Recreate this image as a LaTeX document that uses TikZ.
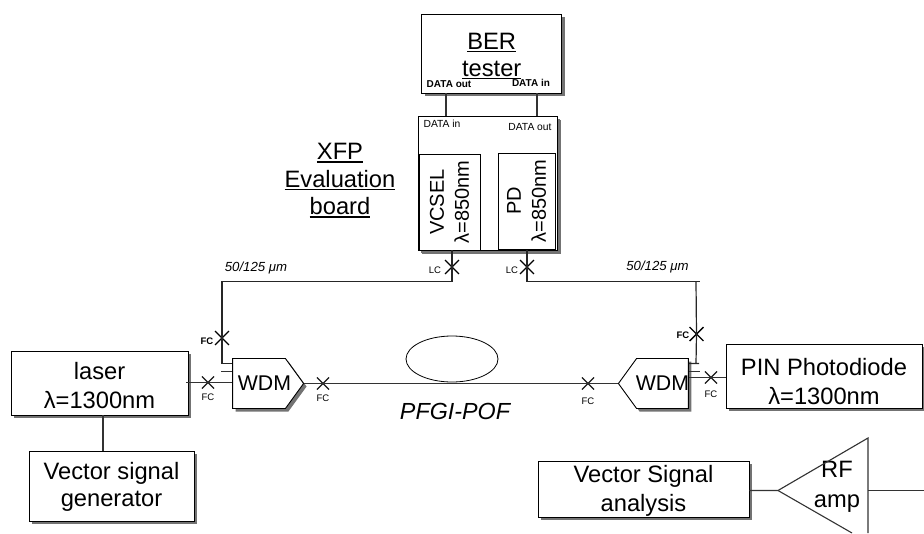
\documentclass[tikz,border=0pt]{standalone}
\usepackage{fontspec}
\setmainfont{Liberation Sans}
\usetikzlibrary{positioning,shapes.misc,shapes.symbols,shapes.geometric,shadows}
\newcommand{\ultext}[1]{\setbox0\hbox{#1}\rlap{\rule[-3pt]{\wd0}{1.2pt}}\box0}
\newcommand{\textdrop}[1]{\rule{0pt}{#1}}
\tikzset{
	box/.style={rectangle,draw,fill=white,align=center,inner sep=0pt,font=\fontsize{23.7}{29}\selectfont,line width=0.9pt,drop shadow={shadow xshift=3pt,shadow yshift=-3pt,fill=black!55,opacity=1}},
	wdm/.style={signal,draw,fill=white,inner sep=0pt,signal pointer angle=108,minimum height=50pt,font=\fontsize{21.3}{24}\selectfont,line width=0.9pt,drop shadow={shadow xshift=3pt,shadow yshift=-3pt,fill=black!55,opacity=1}},
	conn/.style={cross out,draw,inner sep=0pt,minimum size=11pt,line width=1.1pt,black!90},
	connb/.style={cross out,draw,inner sep=0pt,minimum size=12.5pt,line width=1.4pt},
	tag/.style={inner sep=0pt,font=\fontsize{9.5}{11}\selectfont},
	tagb/.style={inner sep=0pt,font=\fontsize{9.5}{11}\selectfont\bfseries},
	datab/.style={inner sep=0pt,font=\fontsize{10}{12}\selectfont\bfseries},
	data/.style={inner sep=0pt,font=\fontsize{10.3}{12}\selectfont},
	fibre/.style={inner sep=0pt,font=\fontsize{13.2}{15}\selectfont\itshape},
	fiber/.style={line width=1.2pt,black!85},
	wire/.style={line width=1.1pt,black!80}
}
\begin{document}
\begin{tikzpicture}[x=1pt,y=-1pt,auto]
	\useasboundingbox (0,0) rectangle (924,533);
	% Place nodes
	\node [box,minimum width=177pt,minimum height=64pt] (laser) at (99.5,383) {\textdrop{23pt}laser\\λ=1300nm};
	\node [box,below of=laser,node distance=103pt,xshift=12pt,minimum width=165pt,minimum height=70pt,font=\fontsize{23.7}{27}\selectfont] (vsg) {\textdrop{19pt}Vector signal\\generator};
	\node [box,minimum width=196pt,minimum height=64pt] (pin) at (824,376) {\textdrop{29pt}PIN Photodiode\\λ=1300nm};
	\node [box,minimum width=211pt,minimum height=56pt] (vsa) at (643.5,489) {\textdrop{21.5pt}Vector Signal\\analysis};
	\node [box,minimum width=140pt,minimum height=79pt,font=\fontsize{23.7}{27}\selectfont] (ber) at (491.7,53.5) {\textdrop{21pt}\ultext{BER}\\\ultext{tester}};
	\node [box,below of=ber,node distance=129.5pt,xshift=-4.2pt,minimum width=139pt,minimum height=134pt,drop shadow={shadow xshift=4pt,shadow yshift=-4pt,fill=black!55,opacity=1}] (xfp) {};
	\node [rectangle,draw,fill=white,rotate=90,align=center,inner sep=0pt,line width=0.9pt,font=\fontsize{20}{25}\selectfont,minimum width=96pt,minimum height=61pt] (vcsel) at (449.5,202) {VCSEL\\λ=850nm};
	\node [rectangle,draw,fill=white,rotate=90,align=center,inner sep=0pt,line width=0.9pt,font=\fontsize{20}{25}\selectfont,minimum width=96pt,minimum height=57pt] (pd) at (526.5,201) {PD\\λ=850nm};
	\node [wdm,signal to=east,minimum width=71pt] (wdml) at (259,383.5) {\makebox[0pt]{\hspace*{11pt}WDM}};
	\node [wdm,signal to=west,minimum width=70pt] (wdmr) at (662.5,383.5) {\makebox[0pt]{WDM}};
	\node [draw,ellipse,minimum width=92pt,minimum height=46pt,inner sep=0pt,line width=0.8pt] (coil) at (452,359) {};
	% Connectors on the fibre
	\node [conn] (xa) at (208,382.5) {};
	\node [conn] (xb) at (323,383.5) {};
	\node [conn] (xc) at (588,383.5) {};
	\node [conn] (xd) at (711,377.5) {};
	\node [connb] (xe) at (222,338) {};
	\node [connb] (xf) at (696.5,334) {};
	\node [connb] (xg) at (452,267) {};
	\node [connb] (xh) at (527,267) {};
	\coordinate (cl) at (222,281.5);
	\coordinate (cr) at (696,281.5);
	\coordinate (ampin) at (778,490.5);
	\coordinate (amptop) at (868,438);
	\coordinate (ampout) at (868,490.5);
	\coordinate (ampend) at (924,490.5);
	% Labels
	\node [tag,below of=xa,node distance=15pt] (fca) {FC};
	\node [tag,below of=xb,node distance=15pt] (fcb) {FC};
	\node [tag,below of=xc,node distance=18pt] (fcc) {FC};
	\node [tag,below of=xd,node distance=17pt] (fcd) {FC};
	\node [tagb,left of=xe,node distance=15pt,yshift=-3pt] (fce) {FC};
	\node [tagb,left of=xf,node distance=13.5pt,yshift=-1pt] (fcf) {FC};
	\node [tag,left of=xg,node distance=17pt,yshift=-3pt] (lca) {LC};
	\node [tag,left of=xh,node distance=15pt,yshift=-3pt] (lcb) {LC};
	\node [datab] (dao) at (449,84) {DATA out};
	\node [datab] (dai) at (531,83) {DATA in};
	\node [data] (xdi) at (442,124) {DATA in};
	\node [data] (xdo) at (530,127) {DATA out};
	\node [align=center,inner sep=0pt,font=\fontsize{23.7}{27.5}\selectfont] (xfplabel) at (340,180.5) {\ultext{XFP}\\\ultext{Evaluation}\\\ultext{board}};
	\node [fibre] (fibl) at (256,268) {50/125 μm};
	\node [fibre] (fibr) at (657.5,267) {50/125 μm};
	\node [inner sep=0pt,font=\fontsize{23.3}{27}\selectfont\itshape] (pof) at (455,411) {PFGI-POF};
	\node [align=center,inner sep=0pt,font=\fontsize{23.7}{30}\selectfont] (amp) at (837,487) {RF\\amp};
	% Draw lines
	\draw [wire] ([xshift=-2pt]laser.east |- xa) -- (xa.center) -- (xa -| wdml.west);
	\draw [wire] (wdml.east) -- (xb.center) -- (xc.center) -- (wdmr.west);
	\draw [wire] (wdmr.east |- xd) -- (xd.center) -- (xd -| pin.west);
	\draw [wire] ([xshift=3.5pt]laser.south) -- ([xshift=-8.5pt]vsg.north);
	\draw [wire] ([xshift=-45.7pt]ber.south) -- ([xshift=-41.5pt]xfp.north);
	\draw [wire] ([xshift=45.3pt]ber.south) -- ([xshift=49.5pt]xfp.north);
	\draw [fiber] (xg.center |- xfp.south) -- (xg.center) |- (cl) -- (xe.center) |- ([yshift=20pt]wdml.west);
	\draw [fiber] (xh.center |- xfp.south) -- (xh.center) |- ([xshift=4pt]cr);
	\draw [fiber] (cr) -- (xf.center) -- ([yshift=20pt]wdmr.east -| cr) -- ([xshift=3pt,yshift=20pt]wdmr.east -| cr) -- ([yshift=20pt]wdmr.east);
	\draw [wire] ([xshift=-11pt,yshift=12pt]wdml.west) -- ([yshift=12pt]wdml.west);
	\draw [wire] ([xshift=11pt,yshift=12pt]wdmr.east) -- ([yshift=12pt]wdmr.east);
	\draw [wire] (vsa.east |- ampin) -- (ampin) -- (amptop) -- (868,533);
	\draw [wire] (ampin) -- (852,533);
	\draw [wire] (ampout) -- (ampend);
\end{tikzpicture}
\end{document}
